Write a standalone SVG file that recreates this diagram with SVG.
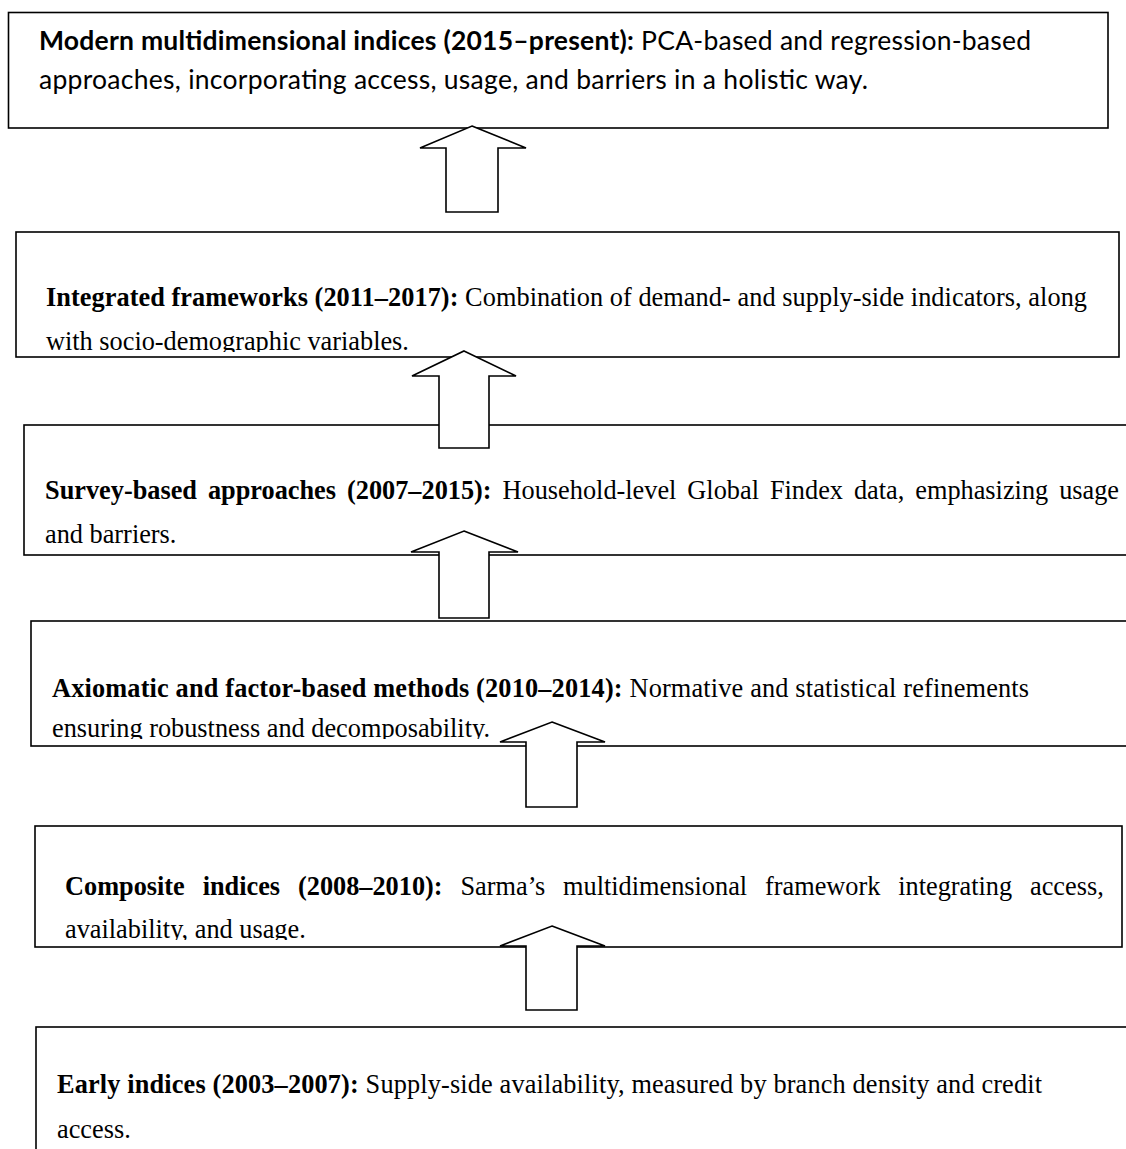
<svg xmlns="http://www.w3.org/2000/svg" width="1126" height="1149" viewBox="0 0 1126 1149">
<style>
.box{fill:#fff;stroke:#000;stroke-width:1.6}
.arr{fill:#fff;stroke:#000;stroke-width:1.6;stroke-linejoin:miter}
.sans{font-family:Lato,"Open Sans","Liberation Sans",sans-serif;font-size:26.5px;fill:#000}
.serif{font-family:"Liberation Serif","Times New Roman",serif;font-size:26.3px;fill:#000}
.b{font-weight:bold}
</style>
<defs>
<clipPath id="c2"><rect x="16" y="232" width="1103" height="120"/></clipPath>
<clipPath id="c4"><rect x="31" y="621" width="1110" height="118"/></clipPath>
<clipPath id="c5"><rect x="35" y="826" width="1088" height="114"/></clipPath>
</defs>
<rect width="1126" height="1149" fill="#fff"/>

<g id="node-modern">
<rect class="box" x="8.5" y="12.5" width="1099.5" height="115.5"/>
<text class="sans" x="39" y="50" textLength="992"><tspan class="b">Modern multidimensional indices (2015–present):</tspan> PCA-based and regression-based</text>
<text class="sans" x="39" y="89" textLength="829">approaches, incorporating access, usage, and barriers in a holistic way.</text>
</g>

<g id="node-integrated">
<rect class="box" x="16" y="232" width="1103" height="125"/>
<g clip-path="url(#c2)">
<text class="serif" x="46" y="306" textLength="1041"><tspan class="b">Integrated frameworks (2011–2017):</tspan> Combination of demand- and supply-side indicators, along</text>
<text class="serif" x="46" y="350">with socio-demographic variables.</text>
</g>
</g>

<g id="node-survey">
<rect class="box" x="24" y="425" width="1120" height="130"/>
<text class="serif" x="45" y="499" word-spacing="4.4"><tspan class="b">Survey-based approaches (2007–2015):</tspan> Household-level Global Findex data, emphasizing usage</text>
<text class="serif" x="45" y="543">and barriers.</text>
</g>

<g id="node-axiomatic">
<rect class="box" x="31" y="621" width="1110" height="125"/>
<g clip-path="url(#c4)">
<text class="serif" x="52" y="697" textLength="977"><tspan class="b">Axiomatic and factor-based methods (2010–2014):</tspan> Normative and statistical refinements</text>
<text class="serif" x="52" y="737">ensuring robustness and decomposability.</text>
</g>
</g>

<g id="node-composite">
<rect class="box" x="35" y="826" width="1087" height="121"/>
<g clip-path="url(#c5)">
<text class="serif" x="65" y="895" word-spacing="11.3"><tspan class="b">Composite indices (2008–2010):</tspan> Sarma’s multidimensional framework integrating access,</text>
<text class="serif" x="65" y="938">availability, and usage.</text>
</g>
</g>

<g id="node-early">
<rect class="box" x="36" y="1027" width="1100" height="140"/>
<text class="serif" x="57" y="1093" textLength="985"><tspan class="b">Early indices (2003–2007):</tspan> Supply-side availability, measured by branch density and credit</text>
<text class="serif" x="57" y="1138">access.</text>
</g>

<g id="connectors">
<polygon class="arr" points="472,126 526,148 498,148 498,212 446,212 446,148 420,148"/>
<polygon class="arr" points="464,351 516,376 489,376 489,448 439,448 439,376 412,376"/>
<polygon class="arr" points="464,531 518,552 489,552 489,618 439,618 439,552 411,552"/>
<polygon class="arr" points="552,722 605,742 577,742 577,807 526,807 526,742 500,742"/>
<polygon class="arr" points="552,926 605,946 577,946 577,1010 526,1010 526,946 500,946"/>
</g>
</svg>
